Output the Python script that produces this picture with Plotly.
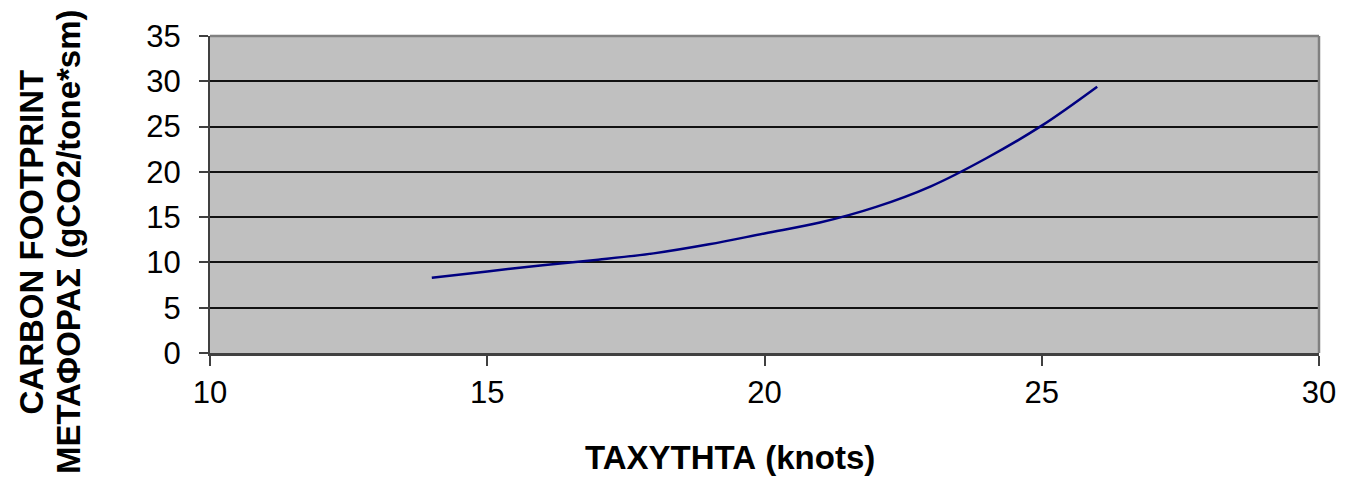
import plotly.graph_objects as go

# Speed (knots) and transport carbon footprint (gCO2 per tonne·sea mile)
speed_knots = [14, 15, 16, 17, 18, 19, 20, 21, 22, 23, 24, 25, 26]
carbon_footprint = [8.3, 9.0, 9.7, 10.3, 11.0, 12.0, 13.2, 14.4, 16.1, 18.4, 21.5, 25.1, 29.4]

x_ticks = [10, 15, 20, 25, 30]
y_ticks = [0, 5, 10, 15, 20, 25, 30, 35]

font_family = "Liberation Sans, Arial, sans-serif"

fig = go.Figure()
fig.add_trace(go.Scatter(
    x=speed_knots,
    y=carbon_footprint,
    mode="lines",
    line=dict(color="#000080", width=2.5, shape="spline", smoothing=1.0),
    showlegend=False,
    hoverinfo="x+y",
))

fig.update_layout(
    width=1348,
    height=484,
    margin=dict(l=210, r=19, t=36, b=131),
    paper_bgcolor="white",
    plot_bgcolor="#C0C0C0",
    font=dict(family=font_family, size=31, color="black"),
    xaxis=dict(
        range=[10, 30],
        tickvals=x_ticks,
        ticks="outside",
        ticklen=10,
        tickwidth=1.5,
        tickcolor="#404040",
        showgrid=False,
        zeroline=False,
        showline=True,
        linecolor="#404040",
        linewidth=3,
        tickfont=dict(size=31),
        fixedrange=True,
    ),
    yaxis=dict(
        range=[0, 35],
        tickvals=y_ticks,
        ticks="outside",
        ticklen=9,
        tickwidth=1.5,
        tickcolor="#404040",
        ticklabelstandoff=12,
        showgrid=True,
        gridcolor="#111111",
        gridwidth=1.5,
        zeroline=False,
        showline=True,
        linecolor="#404040",
        linewidth=2,
        tickfont=dict(size=31),
        fixedrange=True,
    ),
    shapes=[
        # top and right frame of the plot area
        dict(type="line", xref="paper", yref="paper", x0=0, x1=1, y0=1, y1=1,
             line=dict(color="#808080", width=2.5)),
        dict(type="line", xref="paper", yref="paper", x0=1, x1=1, y0=0, y1=1,
             line=dict(color="#808080", width=2.5)),
    ],
    annotations=[
        dict(text="<b>ΤΑΧΥΤΗΤΑ (knots)</b>", xref="paper", yref="paper",
             x=0.469, y=-0.33, xanchor="center", yanchor="middle",
             showarrow=False, font=dict(size=33)),
        dict(text="<b>CARBON FOOTPRINT</b>", xref="paper", yref="paper",
             x=-0.161, y=0.35, xanchor="center", yanchor="middle",
             textangle=-90, showarrow=False, font=dict(size=33)),
        dict(text="<b>ΜΕΤΑΦΟΡΑΣ (gCO2/tone*sm)</b>", xref="paper", yref="paper",
             x=-0.128, y=0.35, xanchor="center", yanchor="middle",
             textangle=-90, showarrow=False, font=dict(size=33)),
    ],
)

fig.write_html("out.html")
